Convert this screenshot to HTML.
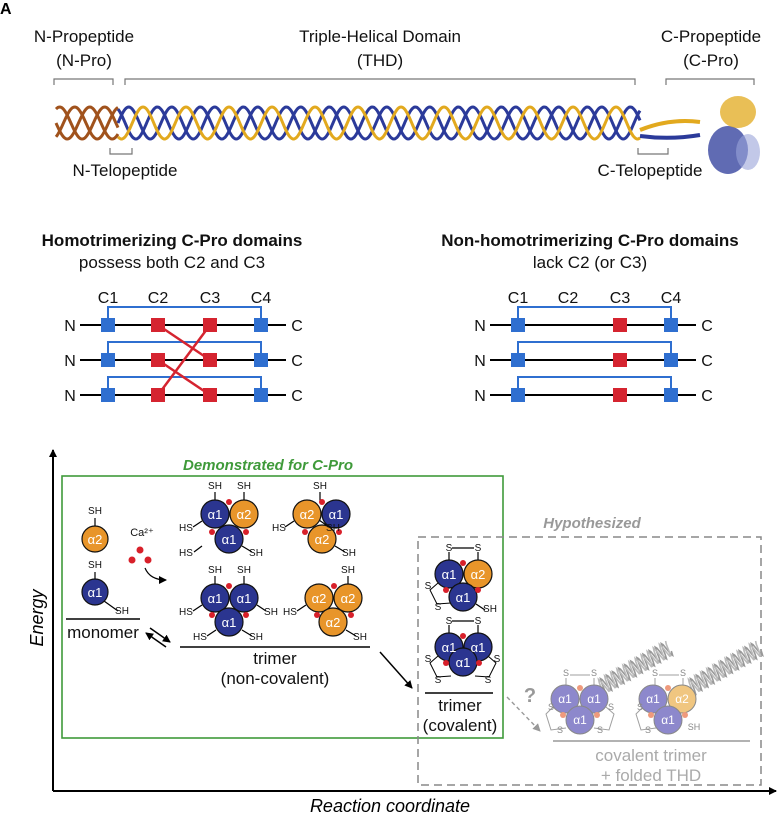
<!DOCTYPE html>
<html><head><meta charset="utf-8"><style>
html,body{margin:0;padding:0;background:#fff;}
svg{display:block;font-family:"Liberation Sans",sans-serif;}
</style></head><body>
<svg id="s" width="781" height="817" viewBox="0 0 781 817" xmlns="http://www.w3.org/2000/svg">
<defs>
<marker id="ah" markerWidth="8" markerHeight="8" refX="7" refY="4" orient="auto" markerUnits="userSpaceOnUse"><path d="M0,0 L8,4 L0,8 Z" fill="#000"/></marker>
<marker id="ag" markerWidth="8" markerHeight="8" refX="7" refY="4" orient="auto" markerUnits="userSpaceOnUse"><path d="M0,0 L8,4 L0,8 Z" fill="#999"/></marker>
</defs>
<text x="0" y="14" font-size="16" font-weight="bold">A</text>
<g font-size="17" fill="#111" text-anchor="middle">
<text x="84" y="42">N-Propeptide</text><text x="84" y="66">(N-Pro)</text>
<text x="380" y="42">Triple-Helical Domain</text><text x="380" y="66">(THD)</text>
<text x="711" y="42">C-Propeptide</text><text x="711" y="66">(C-Pro)</text>
<text x="125" y="176">N-Telopeptide</text>
<text x="650" y="176">C-Telopeptide</text>
</g>
<g stroke="#777" stroke-width="1.2" fill="none">
<path d="M54,85 V79 H113 V85"/><path d="M125,85 V79 H635 V85"/><path d="M666,85 V79 H754 V85"/>
<path d="M110,148 V154 H132 V148"/><path d="M638,148 V154 H668 V148"/>
</g>
<g id="helix" fill="none" stroke-width="3"></g>
<g>
<path d="M640,130 Q670,118 700,122" stroke="#e2a91e" stroke-width="4" fill="none"/>
<path d="M640,136 Q670,140 700,135" stroke="#2b3a9a" stroke-width="4" fill="none"/>
<ellipse cx="728" cy="150" rx="20" ry="24" fill="#2b3a9a" opacity="0.75"/>
<ellipse cx="738" cy="112" rx="18" ry="16" fill="#e2a91e" opacity="0.75"/>
<ellipse cx="748" cy="152" rx="12" ry="18" fill="#9aa3d8" opacity="0.6"/>
</g>
<g font-size="17" text-anchor="middle" fill="#111">
<text x="172" y="246" font-weight="bold">Homotrimerizing C-Pro domains</text>
<text x="172" y="268">possess both C2 and C3</text>
<text x="590" y="246" font-weight="bold">Non-homotrimerizing C-Pro domains</text>
<text x="590" y="268">lack C2 (or C3)</text>
</g>
<g font-size="16" text-anchor="middle" fill="#111">
<text x="108" y="303">C1</text><text x="158" y="303">C2</text><text x="210" y="303">C3</text><text x="261" y="303">C4</text>
<text x="518" y="303">C1</text><text x="568" y="303">C2</text><text x="620" y="303">C3</text><text x="671" y="303">C4</text>
<text x="70" y="331">N</text><text x="70" y="366">N</text><text x="70" y="401">N</text>
<text x="297" y="331">C</text><text x="297" y="366">C</text><text x="297" y="401">C</text>
<text x="480" y="331">N</text><text x="480" y="366">N</text><text x="480" y="401">N</text>
<text x="707" y="331">C</text><text x="707" y="366">C</text><text x="707" y="401">C</text>
</g>
<g stroke="#000" stroke-width="2"><path d="M80,325H286M80,360H286M80,395H286M490,325H696M490,360H696M490,395H696"/></g>
<g stroke="#2f6fd0" stroke-width="2" fill="none">
<path d="M108,325V307H261V325M108,360V342H261V360M108,395V377H261V395"/>
<path d="M518,325V307H671V325M518,360V342H671V360M518,395V377H671V395"/>
</g>
<g stroke="#d52430" stroke-width="2.5"><path d="M158,325L210,360M158,360L210,395M158,395L210,325"/></g>
<g fill="#2f6fd0">
<rect x="101" y="318" width="14" height="14"/><rect x="254" y="318" width="14" height="14"/>
<rect x="101" y="353" width="14" height="14"/><rect x="254" y="353" width="14" height="14"/>
<rect x="101" y="388" width="14" height="14"/><rect x="254" y="388" width="14" height="14"/>
<rect x="511" y="318" width="14" height="14"/><rect x="664" y="318" width="14" height="14"/>
<rect x="511" y="353" width="14" height="14"/><rect x="664" y="353" width="14" height="14"/>
<rect x="511" y="388" width="14" height="14"/><rect x="664" y="388" width="14" height="14"/>
</g>
<g fill="#d52430">
<rect x="151" y="318" width="14" height="14"/><rect x="203" y="318" width="14" height="14"/>
<rect x="151" y="353" width="14" height="14"/><rect x="203" y="353" width="14" height="14"/>
<rect x="151" y="388" width="14" height="14"/><rect x="203" y="388" width="14" height="14"/>
<rect x="613" y="318" width="14" height="14"/><rect x="613" y="353" width="14" height="14"/><rect x="613" y="388" width="14" height="14"/>
</g>
<path d="M53,791V450" stroke="#000" stroke-width="2" marker-end="url(#ah)"/>
<path d="M53,791H776" stroke="#000" stroke-width="2" marker-end="url(#ah)"/>
<text transform="translate(43,618) rotate(-90)" font-size="18" font-style="italic" text-anchor="middle">Energy</text>
<text x="390" y="812" font-size="18" font-style="italic" text-anchor="middle">Reaction coordinate</text>
<rect x="62" y="476" width="441" height="262" fill="none" stroke="#3f9a3a" stroke-width="1.6"/>
<text x="268" y="470" font-size="15" font-weight="bold" font-style="italic" fill="#3f9a3a" text-anchor="middle">Demonstrated for C-Pro</text>
<rect x="418" y="537" width="343" height="248" fill="none" stroke="#888" stroke-width="1.5" stroke-dasharray="8,5"/>
<text x="592" y="528" font-size="15" font-weight="bold" font-style="italic" fill="#999" text-anchor="middle">Hypothesized</text>
<g stroke="#000" stroke-width="1.2">
<path d="M95,518V526M95,572V579M104,601L118,611"/>
<path d="M215,492V501M244,492V501M202,521L193,527M202,546L194,552M242,546L252,552"/>
<path d="M320,492V501M319,520L329,527M294,521L285,527M335,546L345,552"/>
<path d="M215,576V585M244,576V585M202,605L193,611M257,605L266,611M216,630L207,636M242,630L252,636"/>
<path d="M348,576V585M306,605L297,611M346,630L356,636"/>
<path d="M449,552V561M478,552V561M452,548H474M476,604L485,610"/>
<path d="M449,625V634M478,625V634M452,621H474"/>
</g>
<g fill="none" stroke="#000" stroke-width="1"><path d="M438,583L430,590L437,604L451,603"/><path d="M438,656L430,663L437,677L451,676M488,656L496,663L489,677L475,676"/></g>
<g stroke="#111" stroke-width="1.2">
<circle cx="95" cy="539" r="13" fill="#e8952a"/><circle cx="95" cy="592" r="13" fill="#2b3590"/>
<circle cx="215" cy="514" r="14" fill="#2b3590"/><circle cx="244" cy="514" r="14" fill="#e8952a"/><circle cx="229" cy="539" r="14" fill="#2b3590"/>
<circle cx="307" cy="514" r="14" fill="#e8952a"/><circle cx="336" cy="514" r="14" fill="#2b3590"/><circle cx="322" cy="539" r="14" fill="#e8952a"/>
<circle cx="215" cy="598" r="14" fill="#2b3590"/><circle cx="244" cy="598" r="14" fill="#2b3590"/><circle cx="229" cy="622" r="14" fill="#2b3590"/>
<circle cx="319" cy="598" r="14" fill="#e8952a"/><circle cx="348" cy="598" r="14" fill="#e8952a"/><circle cx="333" cy="622" r="14" fill="#e8952a"/>
<circle cx="449" cy="574" r="14" fill="#2b3590"/><circle cx="478" cy="574" r="14" fill="#e8952a"/><circle cx="463" cy="597" r="14" fill="#2b3590"/>
<circle cx="449" cy="647" r="14" fill="#2b3590"/><circle cx="478" cy="647" r="14" fill="#2b3590"/><circle cx="463" cy="662" r="14" fill="#2b3590"/>
</g>
<g fill="#d8202a">
<circle cx="140" cy="550" r="3.5"/><circle cx="132" cy="560" r="3.5"/><circle cx="148" cy="560" r="3.5"/>
<circle cx="229" cy="502" r="3"/><circle cx="212" cy="532" r="3"/><circle cx="246" cy="532" r="3"/>
<circle cx="322" cy="502" r="3"/><circle cx="305" cy="532" r="3"/><circle cx="339" cy="532" r="3"/>
<circle cx="229" cy="586" r="3"/><circle cx="212" cy="615" r="3"/><circle cx="246" cy="615" r="3"/>
<circle cx="334" cy="586" r="3"/><circle cx="317" cy="615" r="3"/><circle cx="351" cy="615" r="3"/>
<circle cx="463" cy="563" r="3"/><circle cx="446" cy="590" r="3"/><circle cx="478" cy="590" r="3"/>
<circle cx="463" cy="636" r="3"/><circle cx="446" cy="663" r="3"/><circle cx="479" cy="663" r="3"/>
</g>
<g font-size="13" fill="#fff" text-anchor="middle">
<text x="95" y="544">α2</text><text x="95" y="597">α1</text>
<text x="215" y="519">α1</text><text x="244" y="519">α2</text><text x="229" y="544">α1</text>
<text x="307" y="519">α2</text><text x="336" y="519">α1</text><text x="322" y="544">α2</text>
<text x="215" y="603">α1</text><text x="244" y="603">α1</text><text x="229" y="627">α1</text>
<text x="319" y="603">α2</text><text x="348" y="603">α2</text><text x="333" y="627">α2</text>
<text x="449" y="579">α1</text><text x="478" y="579">α2</text><text x="463" y="602">α1</text>
<text x="449" y="652">α1</text><text x="478" y="652">α1</text><text x="463" y="667">α1</text>
</g>
<g font-size="10" fill="#111" text-anchor="middle">
<text x="95" y="514">SH</text><text x="95" y="568">SH</text><text x="122" y="614">SH</text>
<text x="142" y="536" font-size="11">Ca²⁺</text>
<text x="215" y="489">SH</text><text x="244" y="489">SH</text><text x="186" y="531">HS</text><text x="186" y="556">HS</text><text x="256" y="556">SH</text>
<text x="320" y="489">SH</text><text x="279" y="531">HS</text><text x="333" y="531">SH</text><text x="349" y="556">SH</text>
<text x="215" y="573">SH</text><text x="244" y="573">SH</text><text x="186" y="615">HS</text><text x="271" y="615">SH</text><text x="200" y="640">HS</text><text x="256" y="640">SH</text>
<text x="348" y="573">SH</text><text x="290" y="615">HS</text><text x="360" y="640">SH</text>
<text x="449" y="551">S</text><text x="478" y="551">S</text><text x="428" y="589">S</text><text x="438" y="610">S</text><text x="490" y="612">SH</text>
<text x="449" y="624">S</text><text x="478" y="624">S</text><text x="428" y="662">S</text><text x="438" y="683">S</text><text x="497" y="662">S</text><text x="488" y="683">S</text>
</g>
<path d="M145,568 Q150,580 166,580" fill="none" stroke="#000" stroke-width="1.2" marker-end="url(#ah)"/>
<g stroke="#000" stroke-width="1.5"><path d="M66,619H140M180,647H370M425,693H493"/></g>
<path d="M150,628L170,642" stroke="#000" stroke-width="1.5" marker-end="url(#ah)"/>
<path d="M166,647L146,633" stroke="#000" stroke-width="1.5" marker-end="url(#ah)"/>
<path d="M380,652L412,688" stroke="#000" stroke-width="1.5" marker-end="url(#ah)"/>
<g font-size="17" text-anchor="middle" fill="#111">
<text x="103" y="638">monomer</text>
<text x="275" y="664">trimer</text><text x="275" y="684">(non-covalent)</text>
<text x="460" y="711">trimer</text><text x="460" y="731">(covalent)</text>
</g>
<path d="M507,697L540,731" stroke="#999" stroke-width="1.4" stroke-dasharray="4,3" marker-end="url(#ag)"/>
<text x="530" y="702" font-size="20" font-weight="bold" fill="#999" text-anchor="middle">?</text>
<g id="fh" fill="none" stroke="#aaa" stroke-width="1.6"></g>
<g stroke="#888" stroke-width="1" fill="none" opacity="0.8">
<path d="M566,678V688M594,678V688M570,675H590M655,678V688M683,678V688M659,675H679"/>
<path d="M553,707L546,714L551,730L566,728M606,707L614,714L609,730L594,728M643,707L636,714L641,730L656,728"/>
</g>
<g stroke="#888" stroke-width="1">
<circle cx="565" cy="699" r="14" fill="#8d88cc"/><circle cx="594" cy="699" r="14" fill="#8d88cc"/><circle cx="580" cy="720" r="14" fill="#8d88cc"/>
<circle cx="653" cy="699" r="14" fill="#8d88cc"/><circle cx="682" cy="699" r="14" fill="#f0c680"/><circle cx="668" cy="720" r="14" fill="#8d88cc"/>
</g>
<g fill="#ef9a7c"><circle cx="580" cy="688" r="3"/><circle cx="563" cy="715" r="3"/><circle cx="597" cy="715" r="3"/><circle cx="668" cy="688" r="3"/><circle cx="651" cy="715" r="3"/><circle cx="685" cy="715" r="3"/></g>
<g font-size="12" fill="#fff" text-anchor="middle">
<text x="565" y="703">α1</text><text x="594" y="703">α1</text><text x="580" y="724">α1</text>
<text x="653" y="703">α1</text><text x="682" y="703">α2</text><text x="668" y="724">α1</text>
</g>
<g font-size="9" fill="#888" text-anchor="middle">
<text x="566" y="676">S</text><text x="594" y="676">S</text><text x="551" y="710">S</text><text x="560" y="733">S</text><text x="611" y="710">S</text><text x="600" y="733">S</text>
<text x="655" y="676">S</text><text x="683" y="676">S</text><text x="640" y="710">S</text><text x="648" y="733">S</text><text x="694" y="730">SH</text>
</g>
<path d="M553,741H750" stroke="#999" stroke-width="1.5"/>
<g font-size="17" fill="#aaa" text-anchor="middle"><text x="651" y="761">covalent trimer</text><text x="651" y="781">+ folded THD</text></g>
<script>
(function(){
var ns="http://www.w3.org/2000/svg";
function p(g,d,c,w,o){var e=document.createElementNS(ns,"path");e.setAttribute("d",d);e.setAttribute("stroke",c);if(w)e.setAttribute("stroke-width",w);if(o)e.setAttribute("opacity",o);g.appendChild(e);}
function wave(x0,x1,cy,A,P,ph){var d="";for(var x=x0;x<=x1;x+=1){var y=cy+A*Math.sin((x-x0)/P*2*Math.PI+ph);d+=(x==x0?"M":"L")+x+","+y.toFixed(1);}return d;}
var h=document.getElementById("helix");
p(h,wave(56,118,123,16,45,0),"#a0521c");
p(h,wave(56,118,123,16,45,2.1),"#a0521c");
p(h,wave(56,118,123,16,45,4.2),"#a0521c");
p(h,wave(118,640,123,16,43,Math.PI),"#2b3a9a");
p(h,wave(118,640,123,16,43,Math.PI+2.1),"#2b3a9a");
p(h,wave(118,640,123,16,43,Math.PI+4.2),"#e2a91e");
var f=document.getElementById("fh");
function dh(x0,y0){var d="",d2="";var ux=0.87,uy=-0.5;for(var t=0;t<=80;t+=1){var s=Math.sin(t/7*2*Math.PI)*8,s2=Math.sin(t/7*2*Math.PI+2)*8;var x=x0+ux*t-uy*s,y=y0+uy*t+ux*s,xb=x0+ux*t-uy*s2,yb=y0+uy*t+ux*s2;d+=(t?"L":"M")+x.toFixed(1)+","+y.toFixed(1);d2+=(t?"L":"M")+xb.toFixed(1)+","+yb.toFixed(1);}p(f,d,"#999");p(f,d2,"#bbb");}
dh(600,688);dh(690,688);
})();
</script>
</svg>
</body></html>
